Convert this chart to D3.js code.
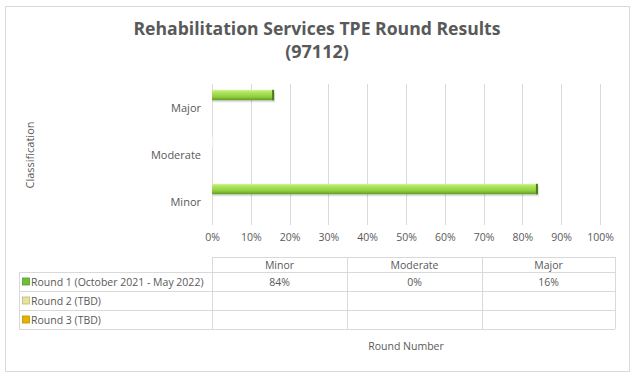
<!DOCTYPE html>
<html>
<head>
<meta charset="utf-8">
<script src="https://cdn.jsdelivr.net/npm/d3@7"></script>
<style>
  body { margin: 0; background: #fff; }
  svg text { font-family: "Open Sans", "Noto Sans", sans-serif; }
</style>
</head>
<body>
<div id="chart"></div>
<script>
// chart data
const titleLines = ["Rehabilitation Services TPE Round Results", "(97112)"];
const categories = ["Minor", "Moderate", "Major"];
const seriesNames = ["Round 1 (October 2021 - May 2022)", "Round 2 (TBD)", "Round 3 (TBD)"];
const round1 = [0.84, 0, 0.16];
const round2 = [null, null, null];
const round3 = [null, null, null];
const xTicks = [0, 0.1, 0.2, 0.3, 0.4, 0.5, 0.6, 0.7, 0.8, 0.9, 1];
const yLabel = "Classification";
const xLabel = "Round Number";

const seriesValues = [round1, round2, round3];
const swatchColors = ["#6cbf3c", "#e7e39e", "#e6b400"];

const width = 639, height = 384;
const textColor = "#595959";
const gridColor = "#d9d9d9";

const svg = d3.select("#chart").append("svg")
    .attr("width", width)
    .attr("height", height);

// squeeze text to a width (stands in for narrow Calibri)
function fit(sel, maxW) {
    sel.each(function () {
        const w = this.getComputedTextLength();
        if (w > maxW) {
            d3.select(this).attr("textLength", maxW).attr("lengthAdjust", "spacingAndGlyphs");
        }
    });
}

// outer frame
svg.append("rect")
    .attr("x", 5.5).attr("y", 6.5)
    .attr("width", 624).attr("height", 365)
    .attr("fill", "#fff")
    .attr("stroke", gridColor);

// title
svg.append("g")
    .selectAll("text")
    .data(titleLines)
    .join("text")
    .attr("x", 317)
    .attr("y", (d, i) => 35 + i * 23)
    .attr("text-anchor", "middle")
    .attr("font-size", 18)
    .attr("font-weight", "bold")
    .attr("fill", textColor)
    .text(d => d)
    .call(fit, 367);

// scales
const xScale = d3.scaleLinear().domain([0, 1]).range([212, 600]);
const yScale = d3.scaleBand()
    .domain(categories.slice().reverse())
    .range([82, 223])
    .paddingInner(0.333)
    .paddingOuter(0.1665);
const ySub = d3.scaleBand()
    .domain(d3.range(seriesNames.length))
    .range([0, yScale.bandwidth()]);

// gridlines
svg.append("g")
    .selectAll("line")
    .data(xTicks)
    .join("line")
    .attr("x1", d => Math.round(xScale(d)) + 0.5)
    .attr("x2", d => Math.round(xScale(d)) + 0.5)
    .attr("y1", 84)
    .attr("y2", 225)
    .attr("stroke", gridColor);

// x tick labels
const xAxis = d3.axisBottom(xScale).tickValues(xTicks).tickFormat(d3.format(".0%")).tickSize(0).tickPadding(0);
svg.append("g")
    .attr("transform", "translate(0,234)")
    .call(xAxis)
    .call(g => g.select(".domain").remove())
    .call(g => g.selectAll("text")
        .attr("fill", textColor)
        .attr("font-size", 10.5)
        .attr("font-family", "'Open Sans', sans-serif"));

// category labels
const yAxis = d3.axisLeft(d3.scalePoint()
        .domain(categories.slice().reverse())
        .range([107.5, 201.5]))
    .tickSize(0).tickPadding(0);
svg.append("g")
    .attr("transform", "translate(201,0)")
    .call(yAxis)
    .call(g => g.select(".domain").remove())
    .call(g => g.selectAll("text")
        .attr("fill", textColor)
        .attr("font-size", 11)
        .attr("font-family", "'Open Sans', sans-serif"));

// axis title
svg.append("text")
    .attr("transform", "translate(34,155) rotate(-90)")
    .attr("text-anchor", "middle")
    .attr("font-size", 11)
    .attr("fill", textColor)
    .text(yLabel);

// bar gradient
const defs = svg.append("defs");
const grad = defs.append("linearGradient")
    .attr("id", "barGrad")
    .attr("x1", 0).attr("y1", 0).attr("x2", 0).attr("y2", 1);
grad.append("stop").attr("offset", "0%").attr("stop-color", "#cff58f");
grad.append("stop").attr("offset", "25%").attr("stop-color", "#aee35f");
grad.append("stop").attr("offset", "65%").attr("stop-color", "#92d03f");
grad.append("stop").attr("offset", "100%").attr("stop-color", "#5f9a22");

// bars (only round 1 has values)
const barData = [];
seriesValues.forEach((vals, s) => {
    vals.forEach((v, i) => {
        if (v !== null) barData.push({ s, cat: categories[i], v });
    });
});

const bars = svg.append("g")
    .selectAll("g")
    .data(barData)
    .join("g")
    .attr("transform", d => `translate(0,${yScale(d.cat) + ySub(d.s)})`);

// soft shadow
bars.append("rect")
    .attr("x", xScale(0) + 1)
    .attr("y", 2)
    .attr("width", d => Math.max(0, xScale(d.v) - xScale(0)))
    .attr("height", ySub.bandwidth())
    .attr("fill", "#000")
    .attr("opacity", d => d.v > 0 ? 0.12 : 0);

bars.append("rect")
    .attr("x", xScale(0))
    .attr("y", 0)
    .attr("width", d => Math.max(0, xScale(d.v) - xScale(0)))
    .attr("height", ySub.bandwidth())
    .attr("fill", "url(#barGrad)");

// dark right end
bars.append("rect")
    .attr("x", d => xScale(d.v) - 2)
    .attr("y", 0)
    .attr("width", d => d.v > 0 ? 2 : 0)
    .attr("height", ySub.bandwidth())
    .attr("fill", "#4d7d1a");

// zero-value sliver
bars.filter(d => d.v === 0).append("rect")
    .attr("x", xScale(0))
    .attr("y", 0)
    .attr("width", 1.5)
    .attr("height", ySub.bandwidth())
    .attr("fill", "#eef5e6");

// data table
const colX = [212, 347, 482, 615];
const rowY = [257, 272, 291, 310, 329];
const tableLeft = 19;
const tbl = svg.append("g").attr("stroke", gridColor).attr("shape-rendering", "crispEdges");

tbl.selectAll(".hline")
    .data(rowY)
    .join("line")
    .attr("x1", (d, i) => i === 0 ? colX[0] : tableLeft)
    .attr("x2", colX[colX.length - 1])
    .attr("y1", d => d + 0.5)
    .attr("y2", d => d + 0.5);

tbl.selectAll(".vline")
    .data([tableLeft].concat(colX))
    .join("line")
    .attr("x1", d => d + 0.5)
    .attr("x2", d => d + 0.5)
    .attr("y1", (d, i) => i === 0 ? rowY[1] : rowY[0])
    .attr("y2", rowY[rowY.length - 1]);

// header row
svg.append("g")
    .selectAll("text")
    .data(categories)
    .join("text")
    .attr("x", (d, i) => (colX[i] + colX[i + 1]) / 2)
    .attr("y", (rowY[0] + rowY[1]) / 2 + 4)
    .attr("text-anchor", "middle")
    .attr("font-size", 10.5)
    .attr("fill", textColor)
    .text(d => d);

// series rows
const rows = svg.append("g")
    .selectAll("g")
    .data(seriesNames)
    .join("g")
    .attr("transform", (d, i) => `translate(0,${(rowY[i + 1] + rowY[i + 2]) / 2})`);

rows.append("rect")
    .attr("x", 22.5)
    .attr("y", -3.5)
    .attr("width", 7)
    .attr("height", 7)
    .attr("fill", (d, i) => swatchColors[i])
    .attr("stroke", (d, i) => d3.color(swatchColors[i]).darker(0.6))
    .attr("stroke-width", 0.8);

rows.append("text")
    .attr("x", 31)
    .attr("y", 4)
    .attr("font-size", 10.5)
    .attr("fill", textColor)
    .text(d => d)
    .call(fit, 176);

rows.selectAll(".val")
    .data((d, i) => seriesValues[i].map((v, j) => ({ v, j })))
    .join("text")
    .attr("x", d => (colX[d.j] + colX[d.j + 1]) / 2)
    .attr("y", 4)
    .attr("text-anchor", "middle")
    .attr("font-size", 10.5)
    .attr("fill", textColor)
    .text(d => d.v === null ? "" : d3.format(".0%")(d.v));

// x label under table
svg.append("text")
    .attr("x", 406)
    .attr("y", 350)
    .attr("text-anchor", "middle")
    .attr("font-size", 10.5)
    .attr("fill", textColor)
    .text(xLabel);
</script>
</body>
</html>
